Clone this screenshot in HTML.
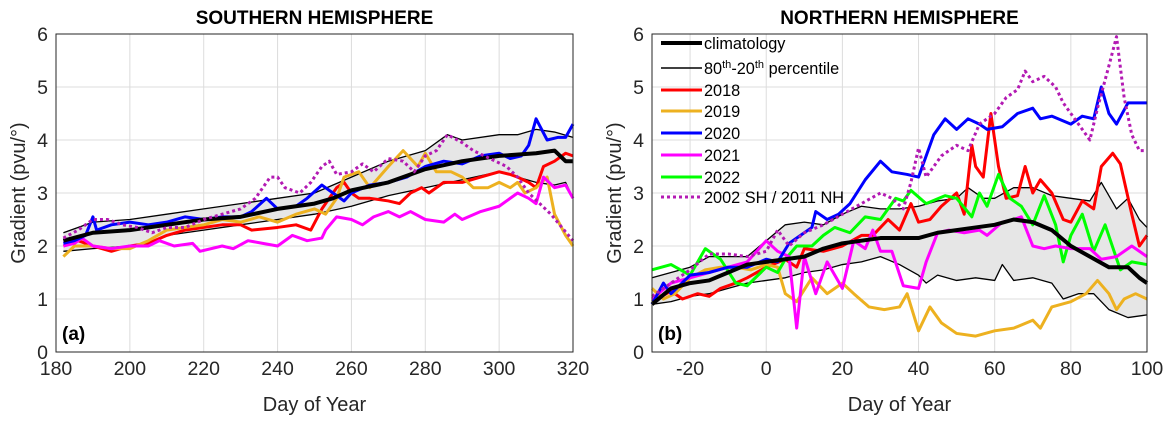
<!DOCTYPE html>
<html><head><meta charset="utf-8"><style>
body{margin:0;background:#fff;}
svg text{font-family:"Liberation Sans",Arial,sans-serif;fill:#262626;}
</style></head><body>
<svg id="c" width="1171" height="423" xmlns="http://www.w3.org/2000/svg"></svg>
<script>
// ---- SH data (day, value pairs) ----
const shClimDays=[182,190,200,210,220,230,240,250,255,260,270,280,290,300,310,315,318,320];
const shClimVals=[2.1,2.25,2.3,2.4,2.5,2.55,2.7,2.8,2.9,3.05,3.2,3.45,3.6,3.7,3.75,3.8,3.6,3.6];
const shUpDays=[182,190,200,210,220,230,240,250,260,270,280,286,290,300,305,310,315,320];
const shUpVals=[2.25,2.45,2.5,2.6,2.7,2.8,2.9,3.0,3.3,3.6,3.8,4.1,4.0,4.1,4.1,4.2,4.15,4.05];
const shLoDays=[182,190,200,205,210,220,230,240,250,260,270,280,290,300,305,310,315,318,320];
const shLoVals=[1.9,1.95,2.0,2.05,2.2,2.3,2.4,2.5,2.6,2.75,2.95,3.1,3.25,3.4,3.3,3.2,3.15,3.2,2.9];
const sh2018Days=[182,186,190,195,200,205,210,215,220,225,230,233,240,245,249,252,256,258,260,262,265,270,273,276,279,281,285,290,295,300,303,305,308,310,312,315,318,320];
const sh2018Vals=[2.0,2.1,2.0,1.9,2.0,2.05,2.2,2.3,2.35,2.4,2.4,2.3,2.35,2.4,2.3,2.7,3.1,3.2,3.0,2.9,2.9,2.85,2.8,3.0,3.1,3.0,3.2,3.2,3.3,3.4,3.35,3.3,3.2,3.1,3.5,3.6,3.75,3.7];
const sh2019Days=[182,185,190,195,200,205,210,215,220,225,230,235,240,245,250,253,256,258,262,265,270,274,278,280,283,287,290,293,297,300,303,305,307,310,313,315,318,320];
const sh2019Vals=[1.8,2.0,2.0,1.95,1.95,2.1,2.3,2.35,2.4,2.5,2.45,2.55,2.45,2.6,2.7,2.6,2.9,3.3,3.4,3.1,3.5,3.8,3.5,3.75,3.4,3.4,3.3,3.1,3.1,3.2,3.1,3.2,3.0,3.1,3.3,2.6,2.2,2.0];
const sh2020Days=[182,185,188,190,191,195,200,205,210,215,220,225,230,233,237,240,245,248,252,256,258,260,265,270,275,280,285,290,295,300,303,306,308,310,313,316,318,320];
const sh2020Vals=[2.05,2.1,2.2,2.55,2.3,2.4,2.45,2.4,2.45,2.55,2.5,2.55,2.55,2.65,2.9,2.7,2.75,2.9,3.15,2.95,2.85,3.0,3.15,3.2,3.3,3.5,3.6,3.55,3.7,3.75,3.65,3.7,3.9,4.4,4.0,4.05,4.05,4.3];
const sh2021Days=[182,185,187,190,195,200,205,208,212,217,219,225,228,232,236,240,244,248,252,253,256,260,263,266,270,273,276,280,285,288,290,295,300,305,308,310,312,315,318,320];
const sh2021Vals=[2.0,2.05,2.15,2.0,1.95,2.0,2.0,2.1,2.0,2.05,1.9,2.0,1.95,2.1,2.05,2.0,2.2,2.1,2.15,2.3,2.55,2.5,2.4,2.55,2.65,2.55,2.65,2.5,2.45,2.6,2.5,2.65,2.75,3.0,2.9,2.8,3.3,3.1,3.15,2.9];
const shExtDays=[182,186,190,194,198,202,206,210,215,220,225,230,234,236,238,240,242,246,249,252,254,256,260,263,266,270,274,277,280,283,286,290,293,296,299,302,305,308,311,314,317,320];
const shExtVals=[2.15,2.3,2.5,2.5,2.4,2.35,2.25,2.35,2.35,2.5,2.6,2.7,2.9,3.1,3.3,3.3,3.1,3.0,3.2,3.5,3.6,3.35,3.4,3.55,3.4,3.65,3.6,3.4,3.7,3.8,4.1,3.95,3.8,3.7,3.6,3.5,3.3,3.0,2.8,2.6,2.35,2.1];
// ---- NH data ----
const nhClimDays=[-30,-25,-20,-15,-10,-5,0,5,10,15,20,25,30,35,40,45,50,55,60,65,70,75,80,85,90,95,98,100];
const nhClimVals=[0.9,1.2,1.3,1.35,1.5,1.65,1.7,1.75,1.8,1.95,2.05,2.1,2.15,2.15,2.15,2.25,2.3,2.35,2.4,2.5,2.45,2.3,2.0,1.8,1.6,1.6,1.4,1.3];
const nhUpDays=[-30,-25,-20,-15,-10,-5,0,5,10,15,20,25,30,35,40,45,50,53,57,60,65,70,75,80,85,88,92,95,98,100];
const nhUpVals=[1.4,1.5,1.6,1.8,1.8,1.8,2.1,2.4,2.45,2.4,2.6,2.75,2.7,2.7,2.75,2.85,2.9,3.1,2.9,2.9,3.1,3.1,2.95,2.9,2.85,3.2,2.7,2.9,2.5,2.35];
const nhLoDays=[-30,-25,-20,-15,-10,-5,0,5,10,15,20,25,30,35,40,42,45,50,55,60,62,65,70,75,78,82,86,90,95,100];
const nhLoVals=[0.9,0.95,1.05,1.1,1.2,1.3,1.35,1.4,1.5,1.55,1.65,1.7,1.8,1.65,1.45,1.3,1.45,1.35,1.4,1.35,1.65,1.35,1.4,1.3,1.0,1.1,1.1,0.8,0.65,0.7];
const nh2018Days=[-30,-25,-22,-18,-15,-12,-8,-5,0,5,8,10,15,20,25,28,32,35,38,40,43,46,50,52,54,55,57,59,61,63,66,68,70,72,75,78,80,83,86,88,91,93,96,98,100];
const nh2018Vals=[0.95,1.15,1.0,1.1,1.05,1.2,1.3,1.4,1.6,1.75,1.6,1.95,1.9,2.0,2.2,2.2,2.5,2.3,2.8,2.45,2.5,2.75,3.0,2.6,3.9,3.5,3.3,4.5,3.5,2.9,2.95,3.5,3.0,3.25,3.0,2.5,2.45,2.85,2.7,3.5,3.75,3.55,2.6,2.0,2.2];
const nh2019Days=[-30,-27,-24,-20,-16,-12,-8,-4,0,3,5,8,12,16,20,23,27,31,35,37,40,43,46,50,55,60,65,70,72,75,80,84,87,90,92,94,97,100];
const nh2019Vals=[1.2,1.0,1.1,1.4,1.55,1.6,1.6,1.55,1.65,1.6,1.1,0.95,1.4,1.1,1.3,1.1,0.85,0.8,0.85,1.1,0.4,0.85,0.55,0.35,0.3,0.4,0.45,0.6,0.45,0.85,0.95,1.1,1.35,1.1,0.8,1.0,1.1,1.0];
const nh2020Days=[-30,-27,-25,-20,-15,-10,-5,0,3,6,9,12,13,16,19,22,26,30,33,37,40,44,47,50,53,56,58,62,66,70,72,75,80,83,86,88,90,92,95,100];
const nh2020Vals=[0.9,1.3,1.1,1.45,1.5,1.6,1.6,1.75,1.7,2.05,2.2,2.35,2.65,2.5,2.6,2.8,3.25,3.6,3.4,3.35,3.3,4.1,4.4,4.2,4.4,4.3,4.2,4.25,4.5,4.6,4.4,4.45,4.3,4.45,4.4,5.0,4.5,4.3,4.7,4.7];
const nh2021Days=[-30,-25,-20,-15,-10,-5,0,3,6,8,10,13,16,20,23,26,28,30,33,36,40,42,45,48,52,56,58,62,65,67,70,73,76,80,85,88,92,96,100];
const nh2021Vals=[1.0,1.3,1.4,1.5,1.6,1.7,2.1,1.9,1.8,0.45,1.8,1.1,1.7,1.2,2.1,1.95,2.3,1.9,1.9,1.25,1.2,1.7,2.25,2.3,2.25,2.3,2.2,2.45,2.5,2.55,2.0,1.95,2.0,1.95,1.95,1.75,1.8,2.0,1.8];
const nh2022Days=[-30,-25,-20,-16,-12,-8,-5,0,3,5,8,12,15,18,22,26,30,34,36,38,42,47,50,54,56,58,61,64,67,70,73,76,78,80,83,86,89,93,96,100];
const nh2022Vals=[1.55,1.65,1.45,1.95,1.75,1.3,1.25,1.6,1.5,1.75,2.0,2.0,2.2,2.35,2.25,2.55,2.5,2.9,2.85,3.05,2.8,2.95,2.9,2.55,3.0,2.75,3.35,2.9,2.75,2.4,2.95,2.4,1.7,2.2,2.6,1.9,2.4,1.55,1.7,1.65];
const nhExtDays=[-30,-25,-20,-15,-10,-5,0,3,6,10,15,20,25,30,33,36,38,40,42,46,50,53,56,60,63,66,68,70,73,76,78,80,83,85,87,90,92,94,96,98,100];
const nhExtVals=[1.05,1.3,1.55,1.85,1.85,1.8,1.9,2.3,2.0,2.25,2.4,2.6,2.8,3.0,2.9,2.7,3.2,3.85,3.3,3.7,3.9,3.8,4.3,4.5,4.8,4.95,5.3,5.1,5.2,5.0,4.7,4.5,4.2,4.0,4.6,5.4,5.95,4.8,4.1,3.8,3.8];
const yTicks=[0,1,2,3,4,5,6];
const shXTicks=[180,200,220,240,260,280,300,320];
const nhXTicks=[-20,0,20,40,60,80,100];

const NS="http://www.w3.org/2000/svg";
const svg=document.getElementById('c');
function mk(tag,attrs,parent){const e=document.createElementNS(NS,tag);for(const k in attrs)e.setAttribute(k,attrs[k]);(parent||svg).appendChild(e);return e;}
const C={red:'#ff0000',org:'#edb120',blue:'#0000ff',mag:'#ff00ff',grn:'#00ff00',pur:'#b31ab3'};

function panel(o){
  const g=mk('g',{});
  
  
  const X=d=>o.x0+(d-o.d0)/(o.d1-o.d0)*(o.x1-o.x0);
  const Y=v=>o.y1-(v/6)*(o.y1-o.y0);
  for(const t of yTicks){const l=mk('line',{x1:o.x0,x2:o.x1,y1:Y(t),y2:Y(t),stroke:'#dcdcdc','stroke-width':1},g);
    
    const tx=mk('text',{x:o.x0-8,y:Y(t)+7,'text-anchor':'end','font-size':19.5},g);tx.textContent=t;
    }
  for(const t of o.xt){const l=mk('line',{x1:X(t),x2:X(t),y1:o.y0,y2:o.y1,stroke:'#dcdcdc','stroke-width':1},g);
    
    const tx=mk('text',{x:X(t),y:o.y1+23,'text-anchor':'middle','font-size':19.5},g);tx.textContent=t;
    }
  let d='M'+o.up[0].map((x,i)=>X(x)+','+Y(o.up[1][i])).join('L');
  for(let i=o.lo[0].length-1;i>=0;i--)d+='L'+X(o.lo[0][i])+','+Y(o.lo[1][i]);
  const band=mk('path',{d:d+'Z',fill:'#e6e6e6',stroke:'none'},g);
  
  const line=(days,vals,col,w,name,dash)=>{const p=mk('polyline',{points:days.map((x,i)=>X(x)+','+Y(vals[i])).join(' '),fill:'none',stroke:col,'stroke-width':w,'stroke-linejoin':'round'},g);
    if(dash)p.setAttribute('stroke-dasharray',dash);
    };
  line(o.up[0],o.up[1],'#000',1.3,'percentile-80th');
  line(o.lo[0],o.lo[1],'#000',1.3,'percentile-20th');
  line(o.s18[0],o.s18[1],C.red,3,'series-2018');
  line(o.s19[0],o.s19[1],C.org,3,'series-2019');
  if(o.s22)line(o.s22[0],o.s22[1],C.grn,3,'series-2022');
  line(o.s21[0],o.s21[1],C.mag,3,'series-2021');
  line(o.s20[0],o.s20[1],C.blue,3,'series-2020');
  line(o.cl[0],o.cl[1],'#000',4,'climatology-line');
  line(o.ex[0],o.ex[1],C.pur,3,'series-extreme-year','3,3');
  const fr=mk('rect',{x:o.x0,y:o.y0,width:o.x1-o.x0,height:o.y1-o.y0,fill:'none',stroke:'#262626','stroke-width':1},g);
  
  const ti=mk('text',{x:(o.x0+o.x1)/2,y:24,'text-anchor':'middle','font-size':19,'font-weight':'bold',style:'fill:#000'},g);ti.textContent=o.title;
  
  const pl=mk('text',{x:o.x0+6,y:o.y1-12,'font-size':19,'font-weight':'bold',style:'fill:#000'},g);pl.textContent=o.lab;
  
  const xl=mk('text',{x:(o.x0+o.x1)/2,y:411,'text-anchor':'middle','font-size':20},g);xl.textContent='Day of Year';
  
  const yl=mk('text',{x:0,y:0,'text-anchor':'middle','font-size':20,transform:`translate(${o.x0-31},${(o.y0+o.y1)/2}) rotate(-90)`},g);yl.textContent='Gradient (pvu/°)';
  
}
panel({name:'southern-hemisphere-panel',x0:56,x1:573,y0:34,y1:352,d0:180,d1:320,xt:shXTicks,title:'SOUTHERN HEMISPHERE',lab:'(a)',
  cl:[shClimDays,shClimVals],up:[shUpDays,shUpVals],lo:[shLoDays,shLoVals],s18:[sh2018Days,sh2018Vals],s19:[sh2019Days,sh2019Vals],
  s20:[sh2020Days,sh2020Vals],s21:[sh2021Days,sh2021Vals],ex:[shExtDays,shExtVals]});
panel({name:'northern-hemisphere-panel',x0:652,x1:1147,y0:34,y1:352,d0:-30,d1:100,xt:nhXTicks,title:'NORTHERN HEMISPHERE',lab:'(b)',
  cl:[nhClimDays,nhClimVals],up:[nhUpDays,nhUpVals],lo:[nhLoDays,nhLoVals],s18:[nh2018Days,nh2018Vals],s19:[nh2019Days,nh2019Vals],
  s20:[nh2020Days,nh2020Vals],s21:[nh2021Days,nh2021Vals],s22:[nh2022Days,nh2022Vals],ex:[nhExtDays,nhExtVals]});
const leg=[['climatology','#000',4,'',43],['80th-20th percentile','#000',1.5,'',68],['2018',C.red,3,'',90],['2019',C.org,3,'',111],['2020',C.blue,3,'',133],['2021',C.mag,3,'',155],['2022',C.grn,3,'',177],['2002 SH / 2011 NH',C.pur,3,'3,3',197]];
const lg=mk('g',{});


for(const [t,c,w,da,y] of leg){
  const e=mk('g',{},lg);
  
  
  const l=mk('line',{x1:661,x2:702,y1:y,y2:y,stroke:c,'stroke-width':w},e);
  if(da)l.setAttribute('stroke-dasharray',da);
  const tx=mk('text',{x:704,y:y+6,'font-size':16.3,style:'fill:#000'},e);
  if(t.startsWith('80th')){tx.innerHTML='80<tspan dy="-6" font-size="11">th</tspan><tspan dy="6">-20</tspan><tspan dy="-6" font-size="11">th</tspan><tspan dy="6"> percentile</tspan>';}
  else tx.textContent=t;
}
</script>
</body></html>
